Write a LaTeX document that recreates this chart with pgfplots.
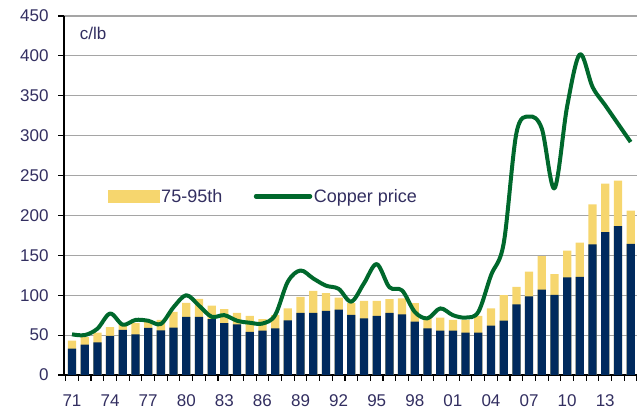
\documentclass[border=0pt]{standalone}
\usepackage{pgfplots}
\usepackage{pgfplotstable}
\pgfplotsset{compat=1.18}
\usepackage{fontspec}
\setmainfont{Liberation Sans}
\definecolor{navy}{RGB}{0,42,94}
\definecolor{gold}{RGB}{246,214,110}
\definecolor{cgreen}{RGB}{0,104,44}
\definecolor{lbl}{RGB}{50,46,96}
\definecolor{gridc}{RGB}{165,165,165}
\pgfplotstableread{
year p75 p95 price
1971 33 43 51
1972 38 47.5 50
1973 41 53 58
1974 49 60 77
1975 56.5 63 63
1976 51 65 69
1977 59 68 68
1978 56 69 64
1979 59.5 79 85
1980 73 90.5 100
1981 73 95.5 87
1982 70 87 73
1983 65 82.5 75
1984 63.5 78 68
1985 54 74 65.5
1986 55.5 70 64.5
1987 58.5 75 75
1988 68.5 83.5 117
1989 78 98 131
1990 78 105.5 121
1991 80.5 102.5 112
1992 82 97 108
1993 75.5 90 92
1994 71 93 115
1995 74 93 139
1996 78 95 110
1997 76 96 106
1998 67 90 79
1999 58.5 73 71
2000 55.5 72 83.5
2001 55.5 69 75
2002 53 69 72
2003 53 74 79
2004 62 83.5 125
2005 68 100 165
2006 88.5 110.5 303
2007 98.5 129.5 324
2008 107 149 309
2009 100.5 126.5 234
2010 122.5 156 337
2011 123 166 402
2012 163.7 214 361
2013 179 240 338
2014 186.5 243.5 315
2015 164.5 206 292
}\data
\begin{document}
\begin{tikzpicture}
\begin{axis}[
  scale only axis, width=573pt, height=359pt,
  xmin=1970.37, xmax=2015.5, ymin=0, ymax=450,
  axis x line*=bottom, axis y line*=left,
  axis line style={black, line width=1.3pt, -},
  tick align=outside, major tick length=6pt,
  tick style={black, line width=1.1pt},
  ytick={0,50,...,450},
  ymajorgrids, major grid style={gridc, line width=1.1pt},
  xtick={1970.5,1971.5,...,2015.5},
  xticklabels={},
  extra x ticks={1971,1974,...,2013},
  extra x tick labels={71,74,77,80,83,86,89,92,95,98,01,04,07,10,13},
  extra x tick style={major tick length=0pt, tick style={draw=none}},
  tick label style={text=lbl, font=\fontsize{17}{20}\selectfont},
  /pgf/number format/assume math mode=true,
  yticklabel style={xshift=-6pt},
  xticklabel style={yshift=-16pt},
  legend columns=2,
  legend style={at={(axis cs:1973.8,224)}, anchor=west, draw=none, fill=none,
    font=\fontsize{18}{20}\selectfont, text=lbl,
    /tikz/every even column/.append style={column sep=30pt},
    inner sep=0pt, nodes={inner sep=1.5pt}},
]
\addplot[ybar, bar width=0.65, bar shift=0pt, fill=gold, draw=none,
  legend image code/.code={\fill[gold] (0pt,-6.5pt) rectangle (52pt,6.5pt);}]
  table[x=year,y=p95]{\data};
\addplot[ybar, bar width=0.65, bar shift=0pt, fill=navy, draw=none, forget plot]
  table[x=year,y=p75]{\data};
\addplot[cgreen, line width=4pt, smooth, tension=0.55, line join=round,
  legend image code/.code={\draw[cgreen, line width=4.5pt, line cap=round] (0pt,0pt) -- (54pt,0pt);}]
  table[x=year,y=price]{\data};
\legend{75-95th, Copper price}
\node[anchor=west, text=lbl, font=\fontsize{17}{20}\selectfont, inner sep=0pt] at (axis cs:1971.6,428) {c/lb};
\end{axis}
\pgfresetboundingbox
\path ([xshift=-64pt,yshift=-36pt]current axis.south west) rectangle ([yshift=16pt]current axis.north east);
\end{tikzpicture}
\end{document}
